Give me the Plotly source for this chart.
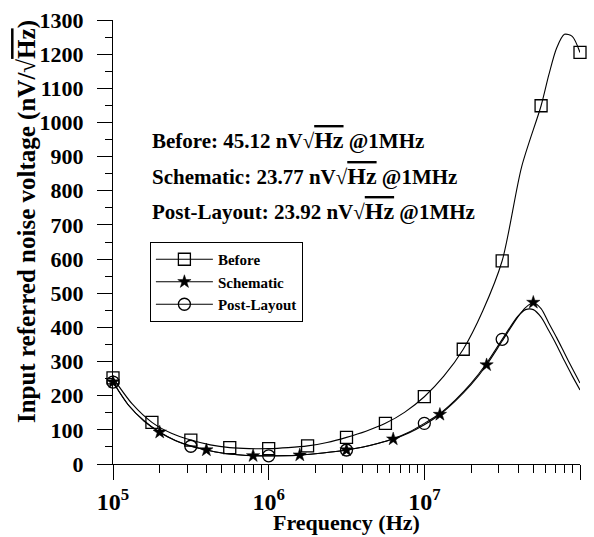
import plotly.graph_objects as go

# ---------------- data (log10 of frequency in Hz, noise in nV/sqrt(Hz)) ----------------
before_line_exp = [5.0, 5.125, 5.25, 5.375, 5.5, 5.625, 5.75, 5.875, 6.0, 6.125, 6.25, 6.375,
                   6.5, 6.625, 6.75, 6.875, 7.0, 7.125, 7.25, 7.375, 7.5, 7.625, 7.75, 7.8,
                   7.85, 7.9, 7.95, 8.0]
before_line_val = [252, 175, 122, 90, 70, 56, 48, 45, 45, 48, 53, 63,
                   78, 96, 119, 152, 197, 257, 336, 448, 595, 870, 1049, 1140,
                   1218, 1258, 1252, 1205]

sch_line_exp = [5.0, 5.1, 5.2, 5.3, 5.4, 5.5, 5.6, 5.7, 5.8, 5.9, 6.0, 6.1, 6.2, 6.3, 6.4,
                6.5, 6.6, 6.7, 6.8, 6.9, 7.0, 7.1, 7.2, 7.3, 7.4, 7.5, 7.6, 7.65, 7.7,
                7.75, 7.8, 7.85, 7.9, 7.95, 8.0]
sch_line_val = [240, 172, 126, 93, 69, 53, 41, 32, 27, 24, 23.8, 24, 26, 30, 35,
                41, 49, 60, 73, 91, 115, 145, 185, 232, 290, 360, 430, 458, 472,
                455, 412, 370, 325, 280, 237]

post_line_exp = [5.0, 5.1, 5.2, 5.3, 5.4, 5.5, 5.6, 5.7, 5.8, 5.9, 6.0, 6.1, 6.2, 6.3, 6.4,
                 6.5, 6.6, 6.7, 6.8, 6.9, 7.0, 7.1, 7.2, 7.3, 7.4, 7.5, 7.6, 7.65, 7.7,
                 7.75, 7.8, 7.85, 7.9, 7.95, 8.0]
post_line_val = [240, 172, 126, 93, 69, 52, 41, 32, 27, 24.5, 24, 24.5, 26.5, 30, 35,
                 41, 49, 60, 74, 93, 119, 148, 188, 236, 295, 365, 432, 452, 452,
                 430, 390, 348, 302, 258, 217]

before_mark_exp = [5.0, 5.25, 5.5, 5.75, 6.0, 6.25, 6.5, 6.75, 7.0, 7.25, 7.5, 7.75, 8.0]
before_mark_val = [252, 122, 70, 48, 45, 53, 78, 119, 197, 336, 595, 1049, 1205]

sch_mark_exp = [5.0, 5.3, 5.6, 5.9, 6.2, 6.5, 6.8, 7.1, 7.4, 7.7]
sch_mark_val = [240, 93, 41, 24, 26, 41, 73, 145, 290, 473]

post_mark_exp = [5.0, 5.5, 6.0, 6.5, 7.0, 7.5]
post_mark_val = [240, 52, 24, 41, 119, 365]

series_names = ["Before", "Schematic", "Post-Layout"]
x_major_exp = [5, 6, 7, 8]
y_ticks = list(range(0, 1301, 100))

FONT = "Liberation Serif, Times New Roman, serif"


def hz(exps):
    return [10 ** e for e in exps]


fig = go.Figure()

# curves
for ex, val in [(before_line_exp, before_line_val), (sch_line_exp, sch_line_val),
                (post_line_exp, post_line_val)]:
    fig.add_trace(go.Scatter(x=hz(ex), y=val, mode="lines",
                             line=dict(color="black", width=1.1, shape="spline", smoothing=0.8),
                             showlegend=False, hoverinfo="skip", cliponaxis=False))

marker_styles = [
    dict(symbol="square-open", size=12, color="black", line=dict(width=1.3, color="black")),
    dict(symbol="star", size=10, color="black", line=dict(width=0.5, color="black")),
    dict(symbol="circle-open", size=12, color="black", line=dict(width=1.3, color="black")),
]

for (ex, val), ms in zip([(before_mark_exp, before_mark_val), (sch_mark_exp, sch_mark_val),
                          (post_mark_exp, post_mark_val)], marker_styles):
    fig.add_trace(go.Scatter(x=hz(ex), y=val, mode="markers", marker=ms,
                             showlegend=False, hoverinfo="skip", cliponaxis=False))

# legend entries
for name, ms in zip(series_names, marker_styles):
    fig.add_trace(go.Scatter(x=[None], y=[None], mode="lines+markers", name=name,
                             marker=ms, line=dict(color="black", width=1.1)))

minor_x = [m * 10 ** e for e in range(5, 8) for m in range(2, 10)]

fig.update_xaxes(
    type="log", range=[5, 8], automargin=False,
    tickvals=hz(x_major_exp),
    ticktext=[f"10<sup>{e}</sup>" for e in x_major_exp],
    ticks="outside", ticklen=15, tickwidth=1.2, tickcolor="black",
    minor=dict(tickvals=minor_x, ticks="outside", ticklen=8, tickwidth=1.2, tickcolor="black"),
    showline=True, linecolor="black", linewidth=1.2,
    showgrid=False, zeroline=False,
    tickfont=dict(family=FONT, size=24, color="black", weight="bold"),
    ticklabelstandoff=1,
)
fig.update_yaxes(
    range=[0, 1300], tickvals=y_ticks, automargin=False,
    ticks="outside", ticklen=15, tickwidth=1.2, tickcolor="black",
    minor=dict(dtick=50, ticks="outside", ticklen=7, tickwidth=1.2, tickcolor="black"),
    showline=True, linecolor="black", linewidth=1.2,
    showgrid=False, zeroline=False,
    tickfont=dict(family=FONT, size=22, color="black", weight="bold"),
    ticklabelstandoff=9,
)

OV = "<span style='font-size:24px;text-decoration:overline'>Hz</span>"
ann_lines = [
    f"Before: 45.12 nV√{OV} @1MHz",
    f"Schematic: 23.77 nV√{OV} @1MHz",
    f"Post-Layout: 23.92 nV√{OV} @1MHz",
]
ann_y = [0.730, 0.649, 0.570]
for t, yy in zip(ann_lines, ann_y):
    fig.add_annotation(text=t, x=0.079, y=yy, xref="paper", yref="paper",
                       xanchor="left", yanchor="middle", showarrow=False,
                       font=dict(family=FONT, size=21, color="black", weight="bold"))

fig.add_annotation(text="Input referred noise voltage (nV/√" +
                   "<span style='text-decoration:overline'>Hz</span>)",
                   x=-0.184, y=0.545, xref="paper", yref="paper", textangle=-90,
                   xanchor="center", yanchor="middle", showarrow=False,
                   font=dict(family=FONT, size=25, color="black", weight="bold"))

fig.add_annotation(text="Frequency (Hz)", x=0.5, y=-0.131, xref="paper", yref="paper",
                   xanchor="center", yanchor="middle", showarrow=False,
                   font=dict(family=FONT, size=22, color="black", weight="bold"))

fig.update_layout(
    width=594, height=537,
    margin=dict(l=113, r=14, t=20, b=73),
    paper_bgcolor="white", plot_bgcolor="white",
    legend=dict(x=0.079, y=0.5, xanchor="left", yanchor="top",
                bordercolor="black", borderwidth=1, bgcolor="white",
                font=dict(family=FONT, size=15, color="black", weight="bold"),
                itemwidth=57, tracegroupgap=0),
)

fig.write_html("out.html")
